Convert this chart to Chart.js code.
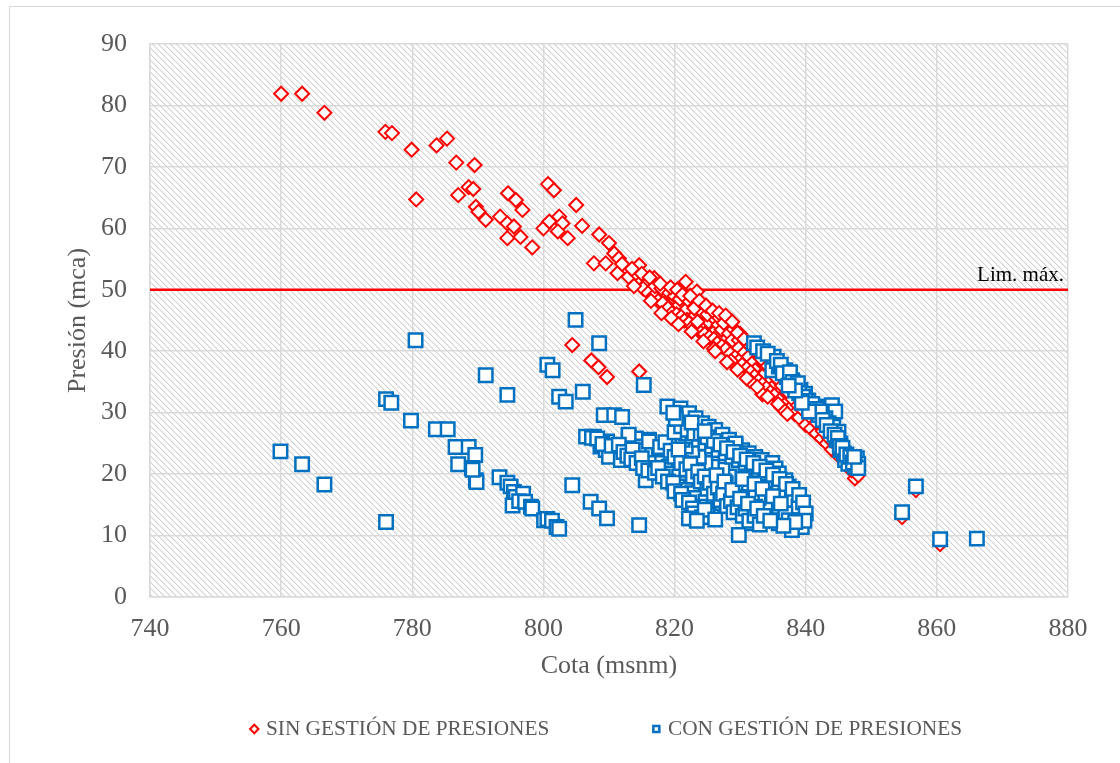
<!DOCTYPE html>
<html>
<head>
<meta charset="utf-8">
<script src="https://cdn.jsdelivr.net/npm/chart.js@4.4.1/dist/chart.umd.min.js"></script>
<style>
  html, body { margin: 0; padding: 0; background: #ffffff; }
  canvas { display: block; }
</style>
</head>
<body>
<canvas id="grafico" width="1120" height="763"></canvas>
<script>
// Presión en nudos sin gestión de presiones (cota msnm, presión mca)
const sinCota = [
  760.0, 763.2, 766.6, 775.9, 776.9, 779.9, 780.6, 783.7, 785.3, 786.7,
  789.5, 787.0, 788.6, 789.3, 789.7, 790.1, 791.2, 793.4, 794.6, 795.8,
  796.8, 794.5, 795.5, 794.5, 796.5, 798.3, 800.7, 801.6, 800.0, 800.9,
  802.4, 802.9, 802.2, 803.7, 805.0, 805.9, 807.7, 808.5, 810.0, 810.8,
  809.5, 811.5, 812.3, 811.3, 814.6, 813.0, 814.1, 816.9, 815.6, 816.6,
  817.4, 818.4, 818.9, 818.7, 819.9, 820.7, 821.7, 823.4, 821.7, 822.9,
  821.9, 823.2, 824.2, 823.7, 824.7, 825.2, 826.0, 826.7, 828.0, 827.2,
  828.3, 828.8, 829.8, 829.8, 830.6, 831.3, 831.8, 832.3, 831.8, 833.1,
  833.8, 834.3, 834.8, 835.9, 836.6, 837.9, 839.4, 839.9, 841.4, 842.5,
  843.5, 844.5, 845.5, 846.5, 847.5,
  804.4, 807.3, 808.4, 809.7, 814.6, 854.7, 856.8, 860.5,
  815.2, 816.0, 816.8, 817.5, 818.2, 819.0, 819.6, 820.3, 821.0, 821.5,
  822.2, 822.8, 823.5, 824.0, 824.6, 825.3, 826.0, 826.5, 827.2, 827.8,
  828.5, 829.2, 829.8, 830.3, 831.0, 831.6, 832.2, 832.8, 833.4, 834.0,
  834.6, 835.2, 836.0, 836.8, 837.5, 838.3, 839.0, 840.0, 840.8, 841.6,
  842.4, 843.2, 844.0, 845.0, 846.0, 847.0, 848.0,
  817.0, 818.0, 819.2, 820.0, 820.8, 822.0, 823.0, 825.0, 826.5, 827.5,
  829.0, 830.0, 831.0, 832.0, 833.0, 833.6,
  819.5, 826.0, 828.6, 831.5, 833.4, 836.3,
  812.0, 813.5, 815.0, 816.2, 817.8, 819.4, 820.4, 821.2, 822.4, 823.8,
  824.8, 825.8, 826.8, 827.8, 828.8, 829.6, 830.6, 831.6, 832.6, 833.2,
  834.2, 835.0, 835.6, 836.4, 837.2, 838.0, 838.8, 839.6, 840.6, 841.6,
  842.6, 843.6, 844.6, 845.4, 846.2,
  813.8, 816.4, 818.0, 820.6, 822.6, 824.4, 826.2, 828.0, 829.6, 831.0,
  832.6, 834.2, 835.8, 837.2
];
const sinPresion = [
  81.9, 81.9, 78.8, 75.7, 75.5, 72.8, 64.7, 73.5, 74.6, 70.7,
  70.3, 65.4, 66.7, 66.4, 63.5, 62.7, 61.4, 61.9, 65.7, 64.6,
  63.0, 60.8, 60.3, 58.4, 58.6, 56.9, 67.2, 66.2, 60.0, 61.1,
  61.9, 60.8, 59.5, 58.4, 63.8, 60.4, 54.3, 59.0, 57.6, 55.9,
  54.3, 55.1, 53.2, 52.7, 54.0, 52.1, 52.7, 51.9, 50.8, 50.0,
  48.9, 49.7, 48.1, 46.7, 48.6, 47.5, 51.3, 49.7, 46.7, 47.8,
  45.1, 45.9, 46.4, 43.5, 44.0, 44.8, 45.4, 44.3, 45.1, 43.5,
  42.9, 41.8, 41.8, 40.5, 39.7, 39.1, 38.0, 36.9, 36.1, 35.9,
  36.4, 34.8, 34.0, 33.2, 32.1, 30.4, 29.6, 28.8, 28.3, 27.2,
  26.1, 24.5, 22.8, 21.2, 19.3,
  41.0, 38.5, 37.4, 35.8, 36.7, 13.0, 17.4, 8.6,
  50.2, 49.5, 49.0, 48.2, 47.8, 47.0, 46.2, 46.0, 45.6, 45.0,
  44.6, 44.0, 44.8, 43.0, 42.8, 42.3, 42.0, 41.3, 40.8, 40.3,
  39.6, 39.0, 38.4, 37.8, 37.2, 36.6, 35.9, 35.2, 34.6, 34.0,
  33.3, 32.8, 32.0, 31.3, 30.6, 29.8, 29.2, 28.0, 27.4, 26.6,
  25.8, 25.0, 24.0, 23.0, 21.8, 20.6, 19.8,
  50.6, 50.2, 49.5, 49.0, 48.5, 48.4, 47.0, 46.0, 45.8, 44.6,
  43.6, 42.8, 41.4, 40.6, 39.2, 38.0,
  45.4, 40.4, 38.4, 35.2, 33.0, 30.8,
  54.2, 53.4, 52.6, 52.0, 51.0, 50.4, 50.0, 49.2, 49.0, 48.2,
  47.4, 46.6, 46.2, 45.8, 44.8, 43.0, 42.0, 40.8, 39.8, 38.8,
  37.6, 36.6, 35.6, 34.4, 33.4, 32.2, 31.2, 30.4, 29.4, 28.4,
  27.0, 25.8, 24.8, 23.8, 22.6,
  50.6, 48.2, 46.2, 44.4, 43.2, 41.6, 40.0, 38.2, 37.0, 35.6,
  34.2, 32.6, 31.4, 29.8
];

// Presión en nudos con gestión de presiones
const conCota = [
  759.9, 763.2, 766.6, 776.0, 776.0, 776.8, 779.8, 780.5, 783.6, 785.4,
  786.6, 788.6, 789.6, 787.0, 789.1, 789.7, 789.8, 791.2, 794.5, 793.3,
  794.5, 795.0, 795.5, 795.8, 795.3, 796.9, 796.3, 797.2, 798.1, 798.3,
  800.1, 800.6, 801.3, 802.0, 802.4, 800.6, 801.4, 802.4, 803.4, 806.0,
  804.4, 804.9, 808.5, 807.2, 808.5, 809.7, 814.6, 815.3, 829.8, 789.2,
  806.5, 809.7, 808.7, 809.5, 811.0, 810.0, 811.8, 813.0, 814.1, 816.1,
  814.6, 815.6, 816.6, 817.6, 816.9, 818.1, 819.1, 818.6, 819.6, 820.7,
  821.7, 820.4, 821.7, 822.7, 823.4, 824.7, 823.9, 825.2, 825.7, 815.6,
  809.2, 810.8, 812.0, 807.7, 813.0, 816.1, 820.9, 821.2, 821.7,
  818.9, 820.9, 822.2, 823.2, 824.2, 825.2, 826.2, 827.3, 828.3, 829.3,
  830.3, 831.3, 832.3, 833.3, 834.9, 835.4, 835.9, 836.9, 837.4, 837.9,
  838.4, 838.9, 839.4, 838.9, 839.4, 837.9, 835.9, 834.9, 834.4, 832.8,
  831.8, 830.3, 829.3, 828.3, 827.3, 825.7, 824.7, 823.7, 822.7, 821.7,
  821.2, 821.7, 822.7, 823.7, 824.7, 825.7, 826.7, 827.8, 828.8, 829.8,
  830.8, 831.8, 832.8, 833.8, 834.9, 835.9, 836.9, 837.9, 838.9, 835.9,
  836.9, 837.4, 829.3, 831.8, 833.8, 832.3, 829.8, 827.8, 825.7, 822.5,
  825.0,
  832.1, 835.1, 834.9, 835.9, 836.9, 837.1, 837.9, 838.4, 839.2, 839.9,
  840.4, 840.7, 841.2, 842.0, 843.0, 844.0, 844.5, 843.0, 843.5, 844.2,
  845.0, 844.7, 845.3, 845.3, 845.8, 846.0, 847.8, 848.0, 847.5, 846.5,
  854.7, 856.8, 860.5, 866.1,
  832.6, 833.5, 834.2, 835.6, 836.2, 836.5, 837.6, 838.0, 838.8, 839.0,
  839.6, 840.0, 841.0, 841.6, 842.2, 842.6, 843.2, 843.8, 844.4, 844.9,
  845.2, 845.6, 846.2, 846.8, 847.2, 848.0, 847.4, 840.5, 839.4, 838.4,
  837.4,
  807.4, 808.2, 809.0, 810.4, 811.5, 812.2, 812.8, 813.6, 813.4, 814.2,
  815.0, 815.2, 816.0, 817.0, 817.5, 818.2, 819.0, 819.8, 820.0, 821.0,
  821.2, 822.2, 822.8, 823.0, 824.2, 824.6, 826.2, 822.2, 823.4,
  817.8, 818.6, 819.4, 820.0, 820.6, 821.0, 821.8, 822.4, 822.8, 823.6,
  824.0, 824.6, 825.0, 825.4, 826.0, 826.6, 827.0, 827.4, 828.0, 828.6,
  829.0, 829.6, 830.4, 830.8, 831.4, 832.2, 833.0, 826.4, 827.6, 828.8,
  830.0, 831.2, 832.6, 833.6, 820.0, 821.0, 822.0, 823.0, 824.0, 825.0,
  826.0, 827.0, 828.0, 829.0, 830.0, 831.0, 832.0, 833.0, 834.0, 835.0,
  836.0, 837.0, 838.0, 839.0, 839.6, 840.0, 839.8, 838.4, 836.6, 834.6,
  830.4, 832.2, 833.4, 835.0, 836.2, 820.2, 822.6, 824.6, 819.8
];
const conPresion = [
  23.7, 21.6, 18.3, 12.2, 32.2, 31.6, 28.7, 41.8, 27.3, 27.3,
  24.4, 24.4, 23.1, 21.6, 21.0, 19.0, 18.7, 36.1, 32.9, 19.5,
  18.6, 18.0, 17.1, 16.3, 14.9, 16.8, 15.6, 15.5, 14.7, 14.4,
  12.5, 12.7, 12.4, 11.4, 11.1, 37.8, 36.9, 32.6, 31.8, 33.4,
  18.2, 45.1, 41.3, 15.5, 14.4, 12.8, 11.7, 34.5, 10.1, 20.7,
  26.1, 25.3, 24.5, 23.9, 23.9, 22.8, 22.3, 26.1, 25.8, 25.6,
  24.5, 23.9, 23.4, 22.8, 21.8, 21.8, 21.2, 20.7, 20.1, 19.6,
  18.5, 18.0, 17.4, 16.9, 16.1, 15.5, 14.7, 13.6, 13.1, 19.0,
  29.6, 29.6, 29.3, 26.1, 26.4, 25.3, 27.2, 28.8, 25.0,
  31.0, 30.7, 29.9, 29.1, 28.3, 27.7, 27.2, 26.4, 25.6, 24.5,
  23.9, 23.4, 22.8, 22.3, 21.8, 20.9, 20.1, 19.0, 18.0, 17.1,
  16.3, 15.3, 14.4, 13.1, 11.4, 10.9, 12.0, 13.6, 14.7, 16.1,
  16.6, 17.4, 18.5, 19.6, 20.7, 21.2, 21.8, 22.8, 23.9, 24.5,
  25.6, 26.6, 26.1, 25.6, 25.0, 24.5, 23.9, 23.4, 22.8, 22.3,
  21.8, 21.2, 20.7, 20.1, 19.0, 18.0, 16.9, 15.8, 14.7, 14.7,
  13.6, 12.5, 25.0, 12.0, 12.5, 14.7, 16.3, 18.5, 19.0, 12.8,
  13.3,
  41.3, 39.1, 36.9, 37.5, 36.9, 35.8, 35.3, 34.2, 33.7, 33.1,
  32.0, 31.0, 30.2, 29.6, 31.0, 31.2, 30.2, 29.1, 28.3, 27.7,
  26.9, 25.5, 25.0, 23.9, 23.4, 22.3, 22.6, 21.7, 21.2, 21.7,
  13.8, 18.0, 9.4, 9.5,
  40.6, 40.0, 39.6, 38.4, 37.8, 36.4, 36.6, 35.0, 34.8, 33.2,
  32.6, 31.9, 31.4, 30.6, 30.2, 28.8, 28.0, 27.0, 26.4, 25.9,
  24.6, 24.3, 23.2, 22.8, 21.9, 21.0, 22.8, 30.2, 31.6, 33.6,
  34.4,
  25.9, 25.8, 24.9, 24.6, 24.8, 23.6, 23.0, 24.0, 22.4, 21.8,
  22.6, 21.0, 20.6, 20.2, 21.0, 19.6, 18.8, 18.6, 17.2, 16.8,
  15.8, 15.4, 14.4, 13.6, 13.0, 14.2, 12.6, 12.8, 12.4,
  24.4, 25.2, 23.8, 22.8, 24.0, 21.8, 20.8, 21.6, 19.6, 20.4,
  18.8, 19.6, 17.6, 18.6, 16.8, 17.8, 15.8, 16.8, 14.8, 15.6,
  13.8, 14.6, 13.2, 14.4, 12.4, 13.2, 11.8, 19.8, 18.8, 17.4,
  16.0, 15.2, 14.4, 13.2, 26.8, 27.8, 27.2, 26.6, 26.6, 26.0,
  25.4, 24.8, 24.2, 23.6, 23.0, 22.4, 21.8, 21.2, 20.6, 19.9,
  19.2, 18.4, 17.6, 16.6, 15.4, 13.6, 12.4, 12.2, 11.6, 12.4,
  19.2, 18.4, 17.6, 16.4, 15.2, 29.0, 28.4, 27.0, 30.0
];

// Escalas y límite admisible
const cotaTicks = [740, 760, 780, 800, 820, 840, 860, 880];
const presionTicks = [0, 10, 20, 30, 40, 50, 60, 70, 80, 90];
const limiteCota = [740, 880];
const limitePresion = 50;

const FUENTE = "'Liberation Serif', 'Times New Roman', serif";
const GRIS_TEXTO = '#595959';
const GRIS_REJILLA = '#d9d9d9';

// Trama diagonal del área de trazado
const trama = document.createElement('canvas');
trama.width = 6; trama.height = 6;
(function () {
  const t = trama.getContext('2d');
  t.fillStyle = '#ffffff';
  t.fillRect(0, 0, 6, 6);
  for (let y = 0; y < 6; y++) {
    for (let x = 0; x < 6; x++) {
      const d = (x - y + 12) % 6;
      if (d === 0) { t.fillStyle = '#d0d0d0'; t.fillRect(x, y, 1, 1); }
      else if (d === 1) { t.fillStyle = '#eeeeee'; t.fillRect(x, y, 1, 1); }
    }
  }
})();

const fondo = {
  id: 'fondo',
  beforeDraw(chart) {
    const { ctx, chartArea: a } = chart;
    ctx.save();
    ctx.fillStyle = '#ffffff';
    ctx.fillRect(0, 0, chart.width, chart.height);
    ctx.strokeStyle = GRIS_REJILLA;
    ctx.lineWidth = 1;
    ctx.strokeRect(9.5, 6.5, chart.width + 20, chart.height + 20);
    ctx.fillStyle = ctx.createPattern(trama, 'repeat');
    ctx.fillRect(a.left, a.top, a.width, a.height);
    ctx.restore();
  }
};

const etiquetaLimite = {
  id: 'etiquetaLimite',
  afterDatasetsDraw(chart) {
    const { ctx, chartArea: a } = chart;
    const y = chart.scales.y.getPixelForValue(limitePresion);
    ctx.save();
    ctx.font = '21px ' + FUENTE;
    ctx.fillStyle = '#000000';
    ctx.textAlign = 'right';
    ctx.textBaseline = 'alphabetic';
    ctx.fillText('Lim. máx.', a.right - 4, y - 9);
    ctx.restore();
  }
};

const puntos = (xs, ys) => xs.map((x, i) => ({ x: x, y: ys[i] }));

new Chart(document.getElementById('grafico'), {
  type: 'scatter',
  data: {
    datasets: [
      {
        label: 'SIN GESTIÓN DE PRESIONES',
        data: puntos(sinCota, sinPresion),
        pointStyle: 'rectRot',
        pointRadius: 7,
        pointBorderWidth: 2,
        borderWidth: 2,
        borderColor: '#ff0000',
        backgroundColor: '#ffffff',
        order: 1
      },
      {
        label: 'CON GESTIÓN DE PRESIONES',
        data: puntos(conCota, conPresion),
        pointStyle: 'rect',
        pointRadius: 9.5,
        pointBorderWidth: 2.5,
        borderWidth: 2.5,
        borderColor: '#0070c0',
        backgroundColor: '#ffffff',
        order: 0
      },
      {
        label: 'Lim. máx.',
        data: limiteCota.map(x => ({ x: x, y: limitePresion })),
        showLine: true,
        borderColor: '#ff0000',
        borderWidth: 2.5,
        pointRadius: 0,
        order: 2
      }
    ]
  },
  plugins: [fondo, etiquetaLimite],
  options: {
    responsive: false,
    animation: false,
    layout: { padding: { left: 0, top: 44, right: 52, bottom: 13.35 } },
    scales: {
      x: {
        type: 'linear',
        min: 740, max: 880,
        afterBuildTicks: s => { s.ticks = cotaTicks.map(v => ({ value: v })); },
        afterFit: s => { s.height = 15.35; },
        grid: { color: GRIS_REJILLA, lineWidth: 1.5, drawTicks: false },
        border: { color: GRIS_REJILLA, width: 1.5 },
        ticks: { color: GRIS_TEXTO, font: { family: FUENTE, size: 26 }, mirror: true, padding: -48.2, maxRotation: 0 },
        title: {
          display: true, text: 'Cota (msnm)', color: GRIS_TEXTO,
          font: { family: FUENTE, size: 26 },
          padding: { top: 0, bottom: -69.25 }
        }
      },
      y: {
        type: 'linear',
        min: 0, max: 90,
        afterBuildTicks: s => { s.ticks = presionTicks.map(v => ({ value: v })); },
        afterFit: s => { s.width = 150; },
        grid: { color: GRIS_REJILLA, lineWidth: 1.5, drawTicks: false },
        border: { color: GRIS_REJILLA, width: 1.5 },
        ticks: { color: GRIS_TEXTO, font: { family: FUENTE, size: 26 }, padding: 23 },
        title: {
          display: true, text: 'Presión (mca)', color: GRIS_TEXTO,
          font: { family: FUENTE, size: 26 },
          padding: { top: 63, bottom: 0 }
        }
      }
    },
    plugins: {
      tooltip: { enabled: false },
      legend: {
        position: 'bottom',
        align: 'end',
        labels: {
          usePointStyle: true,
          boxWidth: 2,
          boxHeight: 6,
          padding: 106,
          color: GRIS_TEXTO,
          font: { family: FUENTE, size: 21.3 },
          filter: item => item.datasetIndex < 2,
          sort: (a, b) => a.datasetIndex - b.datasetIndex
        }
      }
    }
  }
});
</script>
</body>
</html>
